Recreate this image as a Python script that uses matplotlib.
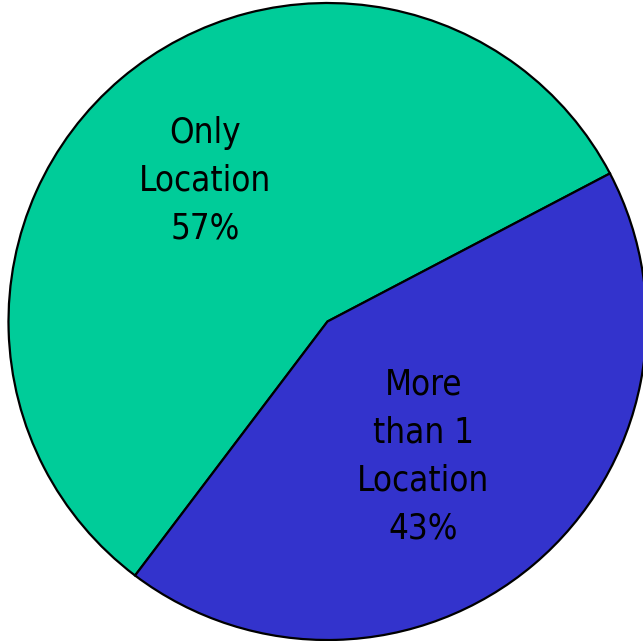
import numpy as np
import matplotlib
matplotlib.use("Agg")
import matplotlib.pyplot as plt
from matplotlib import font_manager

# data
labels = ["Only\nLocation", "More\nthan 1\nLocation"]
shares = [57, 43]
colors = ["#00CC99", "#3333CC"]
# where each label sits inside its wedge (fraction of radius, angle tweak in deg)
label_radius = [0.585, 0.52]
label_angle_shift = [0.6, -5.0]

# narrow sans like the original if there is one
names = {(f.name, f.stretch) for f in font_manager.fontManager.ttflist}
if any(n[0] == "Liberation Sans Narrow" for n in names):
    font = dict(family=["Liberation Sans Narrow", "DejaVu Sans"])
elif ("DejaVu Sans", "condensed") in names:
    font = dict(family=["DejaVu Sans"], stretch="condensed")
else:
    font = dict(family=["Liberation Sans", "DejaVu Sans"])

fig = plt.figure(figsize=(6.43, 6.41), dpi=100)
ax = fig.add_axes([8.5 / 643, 1 / 641, 638 / 643, 637 / 641])

wedges, _ = ax.pie(shares, colors=colors, startangle=27.7, counterclock=True,
                   wedgeprops=dict(edgecolor="black", linewidth=1.6))
ax.set_xlim(-1.0, 1.0)
ax.set_ylim(-1.0, 1.0)
ax.set_aspect("auto")
ax.axis("off")

for w, lab, pct, r, da in zip(wedges, labels, shares, label_radius, label_angle_shift):
    mid = np.deg2rad((w.theta1 + w.theta2) / 2 + da)
    ax.text(r * np.cos(mid), r * np.sin(mid), f"{lab}\n{pct}%",
            ha="center", va="center", fontsize=25, linespacing=1.52, **font)

fig.savefig("out.png", dpi=100)
